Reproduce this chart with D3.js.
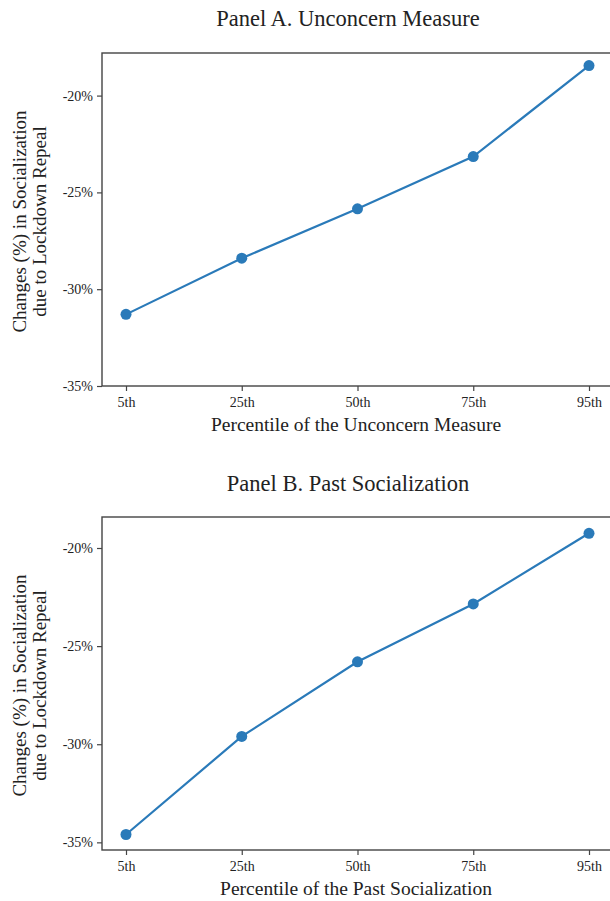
<!DOCTYPE html>
<html>
<head>
<meta charset="utf-8">
<script src="https://cdn.jsdelivr.net/npm/d3@7"></script>
<style>
  body { margin: 0; background: #fff; }
  text { font-family: "Liberation Serif", "Times New Roman", serif; fill: #222; }
</style>
</head>
<body>
<script>
// Data
const percentiles = ["5th", "25th", "50th", "75th", "95th"];
const unconcernChange = [-31.3, -28.4, -25.85, -23.15, -18.45];
const pastSocialChange = [-34.6, -29.6, -25.8, -22.85, -19.25];
const yTicks = [-35, -30, -25, -20];

const width = 610, height = 901;
const color = "#2a7ab9";

const svg = d3.select("body").append("svg")
    .attr("width", width)
    .attr("height", height);

// panel layout (pixel boxes) and y-domain
const panels = [
  { title: "Panel A. Unconcern Measure", xlabel: "Percentile of the Unconcern Measure",
    values: unconcernChange, top: 53, bottom: 386, yDomain: [-35, -17.8], titleY: 26 },
  { title: "Panel B. Past Socialization", xlabel: "Percentile of the Past Socialization",
    values: pastSocialChange, top: 517, bottom: 850, yDomain: [-35.39, -18.42], titleY: 491 }
];
const left = 102, right = 610;

panels.forEach(p => {
  const g = svg.append("g");

  const x = d3.scalePoint()
      .domain(percentiles)
      .range([126, 589]);

  const y = d3.scaleLinear()
      .domain(p.yDomain)
      .range([p.bottom, p.top]);

  // title
  g.append("text")
      .attr("x", 348).attr("y", p.titleY)
      .attr("text-anchor", "middle")
      .style("font-size", "22.5px")
      .text(p.title);

  // frame
  g.append("rect")
      .attr("x", left).attr("y", p.top)
      .attr("width", right - left + 2).attr("height", p.bottom - p.top)
      .attr("fill", "none")
      .attr("stroke", "#444")
      .attr("stroke-width", 1.4);

  // y axis
  const yAxis = g.append("g")
      .attr("transform", `translate(${left},0)`)
      .call(d3.axisLeft(y).tickValues(yTicks).tickSize(5).tickPadding(4).tickFormat(d => d + "%"));
  yAxis.select(".domain").remove();
  yAxis.selectAll("line").attr("stroke", "#444").attr("stroke-width", 1.2);
  yAxis.selectAll("text").style("font-size", "14px").attr("fill", "#333");

  // x axis
  const xAxis = g.append("g")
      .attr("transform", `translate(0,${p.bottom})`)
      .call(d3.axisBottom(x).tickSize(5).tickPadding(6));
  xAxis.select(".domain").remove();
  xAxis.selectAll("line").attr("stroke", "#444").attr("stroke-width", 1.2);
  xAxis.selectAll("text").style("font-size", "14px").attr("fill", "#333");

  // axis labels
  g.append("text")
      .attr("x", 356).attr("y", p.bottom + 45)
      .attr("text-anchor", "middle")
      .style("font-size", "19.5px")
      .text(p.xlabel);

  const cy = (p.top + p.bottom) / 2 + 2;
  const ylab = g.append("text")
      .attr("transform", `translate(0,${cy}) rotate(-90)`)
      .attr("text-anchor", "middle")
      .style("font-size", "19px");
  ylab.append("tspan").attr("x", 0).attr("y", 26).text("Changes (%) in Socialization");
  ylab.append("tspan").attr("x", 0).attr("y", 46).text("due to Lockdown Repeal");

  // line + points
  const pts = percentiles.map((c, i) => [c, p.values[i]]);
  g.append("path")
      .datum(pts)
      .attr("fill", "none")
      .attr("stroke", color)
      .attr("stroke-width", 2.2)
      .attr("d", d3.line().x(d => x(d[0])).y(d => y(d[1])));

  g.selectAll("circle")
      .data(pts)
      .join("circle")
      .attr("cx", d => x(d[0]))
      .attr("cy", d => y(d[1]))
      .attr("r", 5.5)
      .attr("fill", color);
});
</script>
</body>
</html>
